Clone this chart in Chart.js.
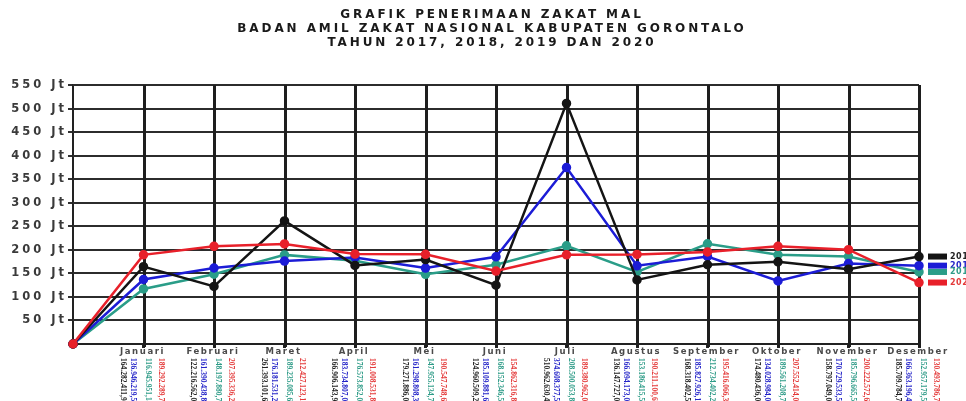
<!DOCTYPE html>
<html>
<head>
<meta charset="utf-8">
<title>Grafik Penerimaan Zakat Mal</title>
<script src="https://cdn.jsdelivr.net/npm/chart.js@4"></script>
<style>
  html, body { margin: 0; padding: 0; background: #ffffff; }
  canvas { display: block; }
</style>
</head>
<body>
<canvas id="zakat" width="966" height="401"></canvas>
<script>
// Bulan (kategori pertama kosong = titik awal nol)
const months = ['', 'Januari', 'Februari', 'Maret', 'April', 'Mei', 'Juni', 'Juli',
  'Agustus', 'September', 'Oktober', 'November', 'Desember'];

const years = ['2017', '2018', '2019', '2020'];

// Penerimaan zakat mal per bulan (Rupiah)
const zakat2017 = [0, 164282411.91, 122216562.02, 261393101.62, 166906143.93, 179271886.05,
  124960509.23, 510962630.44, 136147727.01, 168318402.57, 174480436.00, 158797049.00, 185709784.70];
const zakat2018 = [0, 136946219.59, 161390438.87, 176181531.27, 183734807.00, 161298808.34,
  185109881.60, 374608377.50, 166094173.00, 185827926.14, 134028984.00, 170729533.56, 166363196.44];
const zakat2019 = [0, 116945951.14, 148197880.72, 189235085.64, 176573852.00, 147955134.71,
  168152346.56, 208500053.83, 153186415.53, 212734402.21, 189561208.71, 185796665.57, 152957179.55];
const zakat2020 = [0, 189292289.74, 207395336.21, 212427123.15, 191008531.84, 190547748.68,
  154862316.86, 189380962.07, 190211100.62, 195416066.34, 207552414.00, 200222572.60, 130493786.70];

// Sumbu Y dalam Juta (Jt)
const yMax = 550000000;
const yStep = 50000000;

const titleLines = [
  'GRAFIK PENERIMAAN ZAKAT MAL',
  'BADAN AMIL ZAKAT NASIONAL KABUPATEN GORONTALO',
  'TAHUN 2017, 2018, 2019 DAN 2020'
];

const colors = ['#141414', '#1c1cd6', '#2a9d88', '#e8202a'];
const labelColors = ['#222222', '#2424c8', '#2f9c88', '#e43a3a'];

function rupiah(v) {
  const parts = v.toFixed(2).split('.');
  return parts[0].replace(/\B(?=(\d{3})+(?!\d))/g, '.') + ',' + parts[1];
}

function jutaLabel(v) {
  return v === 0 ? '' : (v / 1000000) + ' Jt';
}

const series = [zakat2017, zakat2018, zakat2019, zakat2020];
const drawOrder = [1, 2, 3, 0];

const datasets = series.map((data, i) => ({
  label: years[i],
  data: data,
  borderColor: colors[i],
  pointBackgroundColor: colors[i],
  pointBorderColor: colors[i],
  borderWidth: 2.5,
  pointRadius: 3.5,
  pointHoverRadius: 3.5,
  tension: 0,
  fill: false,
  clip: false,
  order: drawOrder[i]
}));

// Garis kisi tebal, mengikuti batas sumbu
const gridLines = {
  id: 'gridLines',
  beforeDatasetsDraw(chart) {
    const ctx = chart.ctx;
    const xs = chart.scales.x;
    const ys = chart.scales.y;
    ctx.save();
    ctx.strokeStyle = '#2c2c2c';
    ctx.lineWidth = 2;
    ys.ticks.forEach((t) => {
      if (t.value === 0) return;
      const y = Math.round(ys.getPixelForValue(t.value));
      ctx.beginPath();
      ctx.moveTo(xs.left, y);
      ctx.lineTo(xs.right, y);
      ctx.stroke();
    });
    ctx.strokeStyle = '#1e1e1e';
    ctx.lineWidth = 3;
    for (let i = 1; i < months.length; i++) {
      const x = Math.round(xs.getPixelForValue(i)) + 0.5;
      ctx.beginPath();
      ctx.moveTo(x, ys.top);
      ctx.lineTo(x, ys.bottom + 3);
      ctx.stroke();
    }
    ctx.restore();
  }
};

// Judul, label sumbu, nama bulan, nilai per bulan dan keterangan tahun
const annotate = {
  id: 'annotate',
  afterDraw(chart) {
    const ctx = chart.ctx;
    const xs = chart.scales.x;
    const ys = chart.scales.y;

    // Judul
    ctx.save();
    ctx.letterSpacing = '2.9px';
    ctx.fillStyle = '#1a1a1a';
    ctx.font = 'bold 12px "DejaVu Sans"';
    ctx.textAlign = 'center';
    ctx.textBaseline = 'middle';
    const ty = [15, 29, 43];
    titleLines.forEach((t, i) => ctx.fillText(t, 492, ty[i]));
    ctx.restore();

    // Label sumbu Y (Jt) pada setiap tick skala
    ctx.save();
    ctx.letterSpacing = '3px';
    ctx.fillStyle = '#3a3a3a';
    ctx.font = 'bold 11.5px "DejaVu Sans"';
    ctx.textAlign = 'right';
    ctx.textBaseline = 'middle';
    ys.ticks.forEach((t) => {
      const text = jutaLabel(t.value);
      if (text) ctx.fillText(text, ys.right - 6, ys.getPixelForValue(t.value));
    });
    ctx.restore();

    // Nama bulan
    ctx.save();
    ctx.letterSpacing = '1.6px';
    ctx.fillStyle = '#4a4a4a';
    ctx.font = 'bold 8.5px "DejaVu Sans"';
    ctx.textAlign = 'center';
    ctx.textBaseline = 'middle';
    for (let i = 1; i < months.length; i++) {
      ctx.fillText(months[i], xs.getPixelForValue(i) - 1, 352);
    }
    ctx.restore();

    // Nilai tiap bulan, ditulis tegak
    const offs = [-21, -11, 4, 17];
    ctx.save();
    ctx.letterSpacing = '0px';
    ctx.font = 'bold 7.5px "Liberation Sans Narrow"';
    ctx.textAlign = 'left';
    ctx.textBaseline = 'middle';
    for (let i = 1; i < months.length; i++) {
      const cx = xs.getPixelForValue(i);
      series.forEach((data, s) => {
        ctx.save();
        ctx.translate(cx + offs[s], 358);
        ctx.rotate(Math.PI / 2);
        ctx.fillStyle = labelColors[s];
        ctx.fillText(rupiah(data[i]), 0, 0);
        ctx.restore();
      });
    }
    ctx.restore();

    // Keterangan tahun di ujung garis
    ctx.save();
    ctx.letterSpacing = '0.5px';
    ctx.font = 'bold 8px "DejaVu Sans"';
    ctx.textAlign = 'left';
    ctx.textBaseline = 'middle';
    const last = months.length - 1;
    series.forEach((data, s) => {
      const y = ys.getPixelForValue(data[last]);
      ctx.fillStyle = colors[s];
      ctx.fillRect(928, y - 3, 19, 6);
      ctx.fillStyle = labelColors[s];
      ctx.fillText(years[s], 950, y);
    });
    ctx.restore();
  }
};

new Chart(document.getElementById('zakat'), {
  type: 'line',
  data: { labels: months, datasets: datasets },
  options: {
    responsive: false,
    animation: false,
    layout: { padding: { top: 85, right: 47, left: 68, bottom: 53 } },
    plugins: {
      legend: { display: false },
      title: { display: false },
      tooltip: { enabled: false }
    },
    scales: {
      x: {
        type: 'category',
        offset: false,
        grid: { color: '#222222', lineWidth: 3, tickLength: 4, drawTicks: true, drawOnChartArea: false },
        border: { color: '#222222', width: 2 },
        ticks: { display: false }
      },
      y: {
        min: 0,
        max: yMax,
        grid: { color: '#303030', lineWidth: 2, tickLength: 5, drawOnChartArea: false },
        border: { color: '#222222', width: 2 },
        ticks: { stepSize: yStep, display: false }
      }
    }
  },
  plugins: [gridLines, annotate]
});
</script>
</body>
</html>
